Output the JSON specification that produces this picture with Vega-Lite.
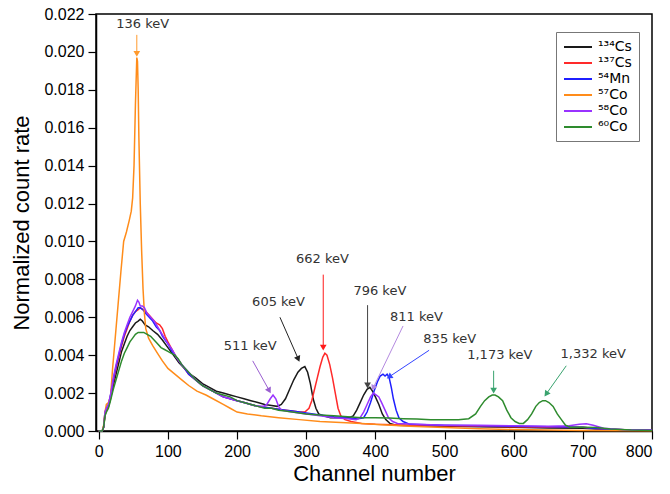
{
"$schema":"https://vega.github.io/schema/vega-lite/v6.json",
"width":556,"height":417,
"autosize":{"type":"none"},
"padding":{"left":96,"top":14,"right":18,"bottom":63},
"background":"white",
"config":{"view":{"stroke":"black","strokeWidth":1.5},
"axis":{"domainColor":"black","tickColor":"black","labelColor":"black","titleColor":"black","labelFont":"Liberation Sans","titleFont":"Liberation Sans","labelFontSize":16,"titleFontSize":22,"titleFontWeight":"normal","grid":false,"tickSize":8,"labelPadding":4,"labelOverlap":false,"domainWidth":1.5,"tickWidth":1.2},
"axisX":{"titlePadding":4},
"axisY":{"titlePadding":10}},
"datasets":{
"ann":[
{"label":"136 keV","tx":63.5,"tv":0.02146,"ax":55,"av":0.0209,"bx":55,"bv":0.0199},
{"label":"511 keV","tx":219,"tv":0.00449,"ax":222.6,"av":0.0037,"bx":246.6,"bv":0.00213},
{"label":"605 keV","tx":260,"tv":0.0068,"ax":262,"av":0.0060,"bx":288.5,"bv":0.0038},
{"label":"662 keV","tx":323.5,"tv":0.0091,"ax":324.6,"av":0.00825,"bx":324.6,"bv":0.0044},
{"label":"796 keV","tx":406.5,"tv":0.0074,"ax":388.7,"av":0.00664,"bx":388.7,"bv":0.0024},
{"label":"811 keV","tx":459.5,"tv":0.0060,"ax":440,"av":0.00554,"bx":396.8,"bv":0.00227},
{"label":"835 keV","tx":507.6,"tv":0.00487,"ax":477.7,"av":0.00426,"bx":420,"bv":0.00286},
{"label":"1,173 keV","tx":580,"tv":0.0040,"ax":571,"av":0.00318,"bx":571,"bv":0.00213},
{"label":"1,332 keV","tx":715,"tv":0.00408,"ax":676,"av":0.00344,"bx":647,"bv":0.00195}
],
"spectra":[
{"isotope":"¹³⁴Cs","channel":0,"rate":0},{"isotope":"¹³⁴Cs","channel":5,"rate":0},{"isotope":"¹³⁴Cs","channel":7,"rate":0.0002},{"isotope":"¹³⁴Cs","channel":9,"rate":0.0008},{"isotope":"¹³⁴Cs","channel":11,"rate":0.0011},{"isotope":"¹³⁴Cs","channel":14,"rate":0.0013},{"isotope":"¹³⁴Cs","channel":17,"rate":0.0017},{"isotope":"¹³⁴Cs","channel":21,"rate":0.0024},{"isotope":"¹³⁴Cs","channel":25,"rate":0.0030},{"isotope":"¹³⁴Cs","channel":29,"rate":0.0036},{"isotope":"¹³⁴Cs","channel":33,"rate":0.0042},{"isotope":"¹³⁴Cs","channel":37,"rate":0.0046},{"isotope":"¹³⁴Cs","channel":41,"rate":0.0050},{"isotope":"¹³⁴Cs","channel":45,"rate":0.0053},{"isotope":"¹³⁴Cs","channel":49,"rate":0.0055},{"isotope":"¹³⁴Cs","channel":53,"rate":0.0057},{"isotope":"¹³⁴Cs","channel":57,"rate":0.0058},{"isotope":"¹³⁴Cs","channel":60,"rate":0.0059},{"isotope":"¹³⁴Cs","channel":63,"rate":0.0058},{"isotope":"¹³⁴Cs","channel":67,"rate":0.0056},{"isotope":"¹³⁴Cs","channel":72,"rate":0.0055},{"isotope":"¹³⁴Cs","channel":78,"rate":0.0053},{"isotope":"¹³⁴Cs","channel":85,"rate":0.0051},{"isotope":"¹³⁴Cs","channel":92,"rate":0.0048},{"isotope":"¹³⁴Cs","channel":100,"rate":0.0044},{"isotope":"¹³⁴Cs","channel":108,"rate":0.0040},{"isotope":"¹³⁴Cs","channel":116,"rate":0.0036},{"isotope":"¹³⁴Cs","channel":124,"rate":0.0033},{"isotope":"¹³⁴Cs","channel":132,"rate":0.0030},{"isotope":"¹³⁴Cs","channel":140,"rate":0.0028},{"isotope":"¹³⁴Cs","channel":150,"rate":0.0025},{"isotope":"¹³⁴Cs","channel":160,"rate":0.0023},{"isotope":"¹³⁴Cs","channel":170,"rate":0.0021},{"isotope":"¹³⁴Cs","channel":180,"rate":0.0020},{"isotope":"¹³⁴Cs","channel":190,"rate":0.0019},{"isotope":"¹³⁴Cs","channel":200,"rate":0.0018},{"isotope":"¹³⁴Cs","channel":210,"rate":0.0017},{"isotope":"¹³⁴Cs","channel":220,"rate":0.0016},{"isotope":"¹³⁴Cs","channel":230,"rate":0.0015},{"isotope":"¹³⁴Cs","channel":240,"rate":0.0014},{"isotope":"¹³⁴Cs","channel":250,"rate":0.00135},{"isotope":"¹³⁴Cs","channel":258,"rate":0.0013},{"isotope":"¹³⁴Cs","channel":264,"rate":0.0014},{"isotope":"¹³⁴Cs","channel":270,"rate":0.0017},{"isotope":"¹³⁴Cs","channel":276,"rate":0.0022},{"isotope":"¹³⁴Cs","channel":282,"rate":0.0027},{"isotope":"¹³⁴Cs","channel":288,"rate":0.0031},{"isotope":"¹³⁴Cs","channel":293,"rate":0.0033},{"isotope":"¹³⁴Cs","channel":298,"rate":0.0034},{"isotope":"¹³⁴Cs","channel":302,"rate":0.0031},{"isotope":"¹³⁴Cs","channel":306,"rate":0.0025},{"isotope":"¹³⁴Cs","channel":310,"rate":0.0017},{"isotope":"¹³⁴Cs","channel":314,"rate":0.0012},{"isotope":"¹³⁴Cs","channel":318,"rate":0.0009},{"isotope":"¹³⁴Cs","channel":325,"rate":0.0008},{"isotope":"¹³⁴Cs","channel":335,"rate":0.0007},{"isotope":"¹³⁴Cs","channel":350,"rate":0.0007},{"isotope":"¹³⁴Cs","channel":362,"rate":0.0007},{"isotope":"¹³⁴Cs","channel":368,"rate":0.0008},{"isotope":"¹³⁴Cs","channel":373,"rate":0.0011},{"isotope":"¹³⁴Cs","channel":378,"rate":0.0015},{"isotope":"¹³⁴Cs","channel":383,"rate":0.0019},{"isotope":"¹³⁴Cs","channel":388,"rate":0.0022},{"isotope":"¹³⁴Cs","channel":392,"rate":0.0023},{"isotope":"¹³⁴Cs","channel":396,"rate":0.0021},{"isotope":"¹³⁴Cs","channel":400,"rate":0.0018},{"isotope":"¹³⁴Cs","channel":405,"rate":0.0014},{"isotope":"¹³⁴Cs","channel":410,"rate":0.0009},{"isotope":"¹³⁴Cs","channel":415,"rate":0.0006},{"isotope":"¹³⁴Cs","channel":421,"rate":0.0004},{"isotope":"¹³⁴Cs","channel":430,"rate":0.0003},{"isotope":"¹³⁴Cs","channel":460,"rate":0.00028},{"isotope":"¹³⁴Cs","channel":500,"rate":0.00025},{"isotope":"¹³⁴Cs","channel":550,"rate":0.00022},{"isotope":"¹³⁴Cs","channel":600,"rate":0.0002},{"isotope":"¹³⁴Cs","channel":650,"rate":0.00016},{"isotope":"¹³⁴Cs","channel":700,"rate":0.00014},{"isotope":"¹³⁴Cs","channel":720,"rate":0.0001},{"isotope":"¹³⁴Cs","channel":750,"rate":0.00006},{"isotope":"¹³⁴Cs","channel":800,"rate":0.00004},
{"isotope":"¹³⁷Cs","channel":0,"rate":0},{"isotope":"¹³⁷Cs","channel":5,"rate":0},{"isotope":"¹³⁷Cs","channel":7,"rate":0.0002},{"isotope":"¹³⁷Cs","channel":9,"rate":0.0009},{"isotope":"¹³⁷Cs","channel":11,"rate":0.0011},{"isotope":"¹³⁷Cs","channel":14,"rate":0.0013},{"isotope":"¹³⁷Cs","channel":17,"rate":0.0018},{"isotope":"¹³⁷Cs","channel":21,"rate":0.0026},{"isotope":"¹³⁷Cs","channel":25,"rate":0.0033},{"isotope":"¹³⁷Cs","channel":29,"rate":0.0039},{"isotope":"¹³⁷Cs","channel":33,"rate":0.0045},{"isotope":"¹³⁷Cs","channel":37,"rate":0.0050},{"isotope":"¹³⁷Cs","channel":41,"rate":0.0054},{"isotope":"¹³⁷Cs","channel":45,"rate":0.0058},{"isotope":"¹³⁷Cs","channel":49,"rate":0.0061},{"isotope":"¹³⁷Cs","channel":53,"rate":0.0063},{"isotope":"¹³⁷Cs","channel":57,"rate":0.0064},{"isotope":"¹³⁷Cs","channel":60,"rate":0.0065},{"isotope":"¹³⁷Cs","channel":64,"rate":0.0064},{"isotope":"¹³⁷Cs","channel":68,"rate":0.0063},{"isotope":"¹³⁷Cs","channel":73,"rate":0.0061},{"isotope":"¹³⁷Cs","channel":78,"rate":0.0059},{"isotope":"¹³⁷Cs","channel":83,"rate":0.0057},{"isotope":"¹³⁷Cs","channel":88,"rate":0.0056},{"isotope":"¹³⁷Cs","channel":92,"rate":0.0054},{"isotope":"¹³⁷Cs","channel":96,"rate":0.0050},{"isotope":"¹³⁷Cs","channel":100,"rate":0.0047},{"isotope":"¹³⁷Cs","channel":106,"rate":0.0043},{"isotope":"¹³⁷Cs","channel":112,"rate":0.0039},{"isotope":"¹³⁷Cs","channel":120,"rate":0.0035},{"isotope":"¹³⁷Cs","channel":130,"rate":0.0030},{"isotope":"¹³⁷Cs","channel":140,"rate":0.0027},{"isotope":"¹³⁷Cs","channel":150,"rate":0.0024},{"isotope":"¹³⁷Cs","channel":160,"rate":0.0022},{"isotope":"¹³⁷Cs","channel":170,"rate":0.0020},{"isotope":"¹³⁷Cs","channel":180,"rate":0.0018},{"isotope":"¹³⁷Cs","channel":190,"rate":0.0017},{"isotope":"¹³⁷Cs","channel":200,"rate":0.0016},{"isotope":"¹³⁷Cs","channel":210,"rate":0.0015},{"isotope":"¹³⁷Cs","channel":220,"rate":0.0014},{"isotope":"¹³⁷Cs","channel":230,"rate":0.0013},{"isotope":"¹³⁷Cs","channel":240,"rate":0.00125},{"isotope":"¹³⁷Cs","channel":250,"rate":0.0012},{"isotope":"¹³⁷Cs","channel":260,"rate":0.00115},{"isotope":"¹³⁷Cs","channel":270,"rate":0.0011},{"isotope":"¹³⁷Cs","channel":280,"rate":0.00105},{"isotope":"¹³⁷Cs","channel":290,"rate":0.0010},{"isotope":"¹³⁷Cs","channel":298,"rate":0.0010},{"isotope":"¹³⁷Cs","channel":304,"rate":0.0012},{"isotope":"¹³⁷Cs","channel":308,"rate":0.0016},{"isotope":"¹³⁷Cs","channel":312,"rate":0.0022},{"isotope":"¹³⁷Cs","channel":316,"rate":0.0028},{"isotope":"¹³⁷Cs","channel":320,"rate":0.0034},{"isotope":"¹³⁷Cs","channel":324,"rate":0.0039},{"isotope":"¹³⁷Cs","channel":327,"rate":0.0041},{"isotope":"¹³⁷Cs","channel":330,"rate":0.0040},{"isotope":"¹³⁷Cs","channel":334,"rate":0.0035},{"isotope":"¹³⁷Cs","channel":338,"rate":0.0028},{"isotope":"¹³⁷Cs","channel":342,"rate":0.0020},{"isotope":"¹³⁷Cs","channel":346,"rate":0.0012},{"isotope":"¹³⁷Cs","channel":350,"rate":0.0008},{"isotope":"¹³⁷Cs","channel":356,"rate":0.0006},{"isotope":"¹³⁷Cs","channel":365,"rate":0.0005},{"isotope":"¹³⁷Cs","channel":380,"rate":0.0004},{"isotope":"¹³⁷Cs","channel":400,"rate":0.00035},{"isotope":"¹³⁷Cs","channel":450,"rate":0.0003},{"isotope":"¹³⁷Cs","channel":500,"rate":0.00028},{"isotope":"¹³⁷Cs","channel":550,"rate":0.00025},{"isotope":"¹³⁷Cs","channel":600,"rate":0.00022},{"isotope":"¹³⁷Cs","channel":650,"rate":0.0002},{"isotope":"¹³⁷Cs","channel":700,"rate":0.0002},{"isotope":"¹³⁷Cs","channel":720,"rate":0.00012},{"isotope":"¹³⁷Cs","channel":760,"rate":0.00006},{"isotope":"¹³⁷Cs","channel":800,"rate":0.00004},
{"isotope":"⁵⁴Mn","channel":0,"rate":0},{"isotope":"⁵⁴Mn","channel":5,"rate":0},{"isotope":"⁵⁴Mn","channel":7,"rate":0.0002},{"isotope":"⁵⁴Mn","channel":9,"rate":0.0010},{"isotope":"⁵⁴Mn","channel":11,"rate":0.0012},{"isotope":"⁵⁴Mn","channel":14,"rate":0.0014},{"isotope":"⁵⁴Mn","channel":17,"rate":0.0019},{"isotope":"⁵⁴Mn","channel":21,"rate":0.0027},{"isotope":"⁵⁴Mn","channel":25,"rate":0.0034},{"isotope":"⁵⁴Mn","channel":29,"rate":0.0040},{"isotope":"⁵⁴Mn","channel":33,"rate":0.0046},{"isotope":"⁵⁴Mn","channel":37,"rate":0.0051},{"isotope":"⁵⁴Mn","channel":41,"rate":0.0055},{"isotope":"⁵⁴Mn","channel":45,"rate":0.0058},{"isotope":"⁵⁴Mn","channel":49,"rate":0.0061},{"isotope":"⁵⁴Mn","channel":53,"rate":0.0063},{"isotope":"⁵⁴Mn","channel":57,"rate":0.0065},{"isotope":"⁵⁴Mn","channel":60,"rate":0.0065},{"isotope":"⁵⁴Mn","channel":64,"rate":0.0064},{"isotope":"⁵⁴Mn","channel":68,"rate":0.0062},{"isotope":"⁵⁴Mn","channel":73,"rate":0.0060},{"isotope":"⁵⁴Mn","channel":78,"rate":0.0058},{"isotope":"⁵⁴Mn","channel":83,"rate":0.0055},{"isotope":"⁵⁴Mn","channel":88,"rate":0.0053},{"isotope":"⁵⁴Mn","channel":92,"rate":0.0050},{"isotope":"⁵⁴Mn","channel":96,"rate":0.0048},{"isotope":"⁵⁴Mn","channel":100,"rate":0.0046},{"isotope":"⁵⁴Mn","channel":106,"rate":0.0042},{"isotope":"⁵⁴Mn","channel":112,"rate":0.0039},{"isotope":"⁵⁴Mn","channel":120,"rate":0.0035},{"isotope":"⁵⁴Mn","channel":130,"rate":0.0030},{"isotope":"⁵⁴Mn","channel":140,"rate":0.0027},{"isotope":"⁵⁴Mn","channel":150,"rate":0.0024},{"isotope":"⁵⁴Mn","channel":160,"rate":0.0022},{"isotope":"⁵⁴Mn","channel":170,"rate":0.0020},{"isotope":"⁵⁴Mn","channel":180,"rate":0.0018},{"isotope":"⁵⁴Mn","channel":190,"rate":0.0017},{"isotope":"⁵⁴Mn","channel":200,"rate":0.0016},{"isotope":"⁵⁴Mn","channel":210,"rate":0.0015},{"isotope":"⁵⁴Mn","channel":220,"rate":0.0014},{"isotope":"⁵⁴Mn","channel":230,"rate":0.0013},{"isotope":"⁵⁴Mn","channel":240,"rate":0.00125},{"isotope":"⁵⁴Mn","channel":250,"rate":0.0012},{"isotope":"⁵⁴Mn","channel":260,"rate":0.00115},{"isotope":"⁵⁴Mn","channel":270,"rate":0.0011},{"isotope":"⁵⁴Mn","channel":280,"rate":0.00105},{"isotope":"⁵⁴Mn","channel":290,"rate":0.0010},{"isotope":"⁵⁴Mn","channel":300,"rate":0.00095},{"isotope":"⁵⁴Mn","channel":320,"rate":0.00085},{"isotope":"⁵⁴Mn","channel":340,"rate":0.00075},{"isotope":"⁵⁴Mn","channel":360,"rate":0.00068},{"isotope":"⁵⁴Mn","channel":375,"rate":0.00065},{"isotope":"⁵⁴Mn","channel":383,"rate":0.0007},{"isotope":"⁵⁴Mn","channel":388,"rate":0.0010},{"isotope":"⁵⁴Mn","channel":393,"rate":0.0015},{"isotope":"⁵⁴Mn","channel":398,"rate":0.0021},{"isotope":"⁵⁴Mn","channel":403,"rate":0.0026},{"isotope":"⁵⁴Mn","channel":407,"rate":0.0029},{"isotope":"⁵⁴Mn","channel":411,"rate":0.0030},{"isotope":"⁵⁴Mn","channel":414,"rate":0.0029},{"isotope":"⁵⁴Mn","channel":417,"rate":0.0030},{"isotope":"⁵⁴Mn","channel":420,"rate":0.0028},{"isotope":"⁵⁴Mn","channel":423,"rate":0.0023},{"isotope":"⁵⁴Mn","channel":426,"rate":0.0017},{"isotope":"⁵⁴Mn","channel":430,"rate":0.0011},{"isotope":"⁵⁴Mn","channel":434,"rate":0.0007},{"isotope":"⁵⁴Mn","channel":440,"rate":0.0005},{"isotope":"⁵⁴Mn","channel":450,"rate":0.00035},{"isotope":"⁵⁴Mn","channel":500,"rate":0.0003},{"isotope":"⁵⁴Mn","channel":550,"rate":0.00028},{"isotope":"⁵⁴Mn","channel":600,"rate":0.00025},{"isotope":"⁵⁴Mn","channel":650,"rate":0.00022},{"isotope":"⁵⁴Mn","channel":700,"rate":0.0002},{"isotope":"⁵⁴Mn","channel":720,"rate":0.00012},{"isotope":"⁵⁴Mn","channel":760,"rate":0.00006},{"isotope":"⁵⁴Mn","channel":800,"rate":0.00004},
{"isotope":"⁵⁷Co","channel":0,"rate":0},{"isotope":"⁵⁷Co","channel":5,"rate":0},{"isotope":"⁵⁷Co","channel":7,"rate":0.0003},{"isotope":"⁵⁷Co","channel":9,"rate":0.0010},{"isotope":"⁵⁷Co","channel":11,"rate":0.0014},{"isotope":"⁵⁷Co","channel":14,"rate":0.0015},{"isotope":"⁵⁷Co","channel":17,"rate":0.0018},{"isotope":"⁵⁷Co","channel":20,"rate":0.0033},{"isotope":"⁵⁷Co","channel":24,"rate":0.0050},{"isotope":"⁵⁷Co","channel":28,"rate":0.0067},{"isotope":"⁵⁷Co","channel":32,"rate":0.0084},{"isotope":"⁵⁷Co","channel":36,"rate":0.0100},{"isotope":"⁵⁷Co","channel":40,"rate":0.0105},{"isotope":"⁵⁷Co","channel":44,"rate":0.0111},{"isotope":"⁵⁷Co","channel":47,"rate":0.0116},{"isotope":"⁵⁷Co","channel":49,"rate":0.0123},{"isotope":"⁵⁷Co","channel":51,"rate":0.0140},{"isotope":"⁵⁷Co","channel":53,"rate":0.0172},{"isotope":"⁵⁷Co","channel":55,"rate":0.0197},{"isotope":"⁵⁷Co","channel":56,"rate":0.0195},{"isotope":"⁵⁷Co","channel":57,"rate":0.0180},{"isotope":"⁵⁷Co","channel":58,"rate":0.0155},{"isotope":"⁵⁷Co","channel":60,"rate":0.0120},{"isotope":"⁵⁷Co","channel":62,"rate":0.0095},{"isotope":"⁵⁷Co","channel":64,"rate":0.0075},{"isotope":"⁵⁷Co","channel":66,"rate":0.0062},{"isotope":"⁵⁷Co","channel":68,"rate":0.0054},{"isotope":"⁵⁷Co","channel":72,"rate":0.0049},{"isotope":"⁵⁷Co","channel":78,"rate":0.0045},{"isotope":"⁵⁷Co","channel":85,"rate":0.0041},{"isotope":"⁵⁷Co","channel":92,"rate":0.0037},{"isotope":"⁵⁷Co","channel":100,"rate":0.0033},{"isotope":"⁵⁷Co","channel":110,"rate":0.0030},{"isotope":"⁵⁷Co","channel":120,"rate":0.0027},{"isotope":"⁵⁷Co","channel":130,"rate":0.0024},{"isotope":"⁵⁷Co","channel":142,"rate":0.0021},{"isotope":"⁵⁷Co","channel":155,"rate":0.0019},{"isotope":"⁵⁷Co","channel":165,"rate":0.0017},{"isotope":"⁵⁷Co","channel":180,"rate":0.0014},{"isotope":"⁵⁷Co","channel":190,"rate":0.0012},{"isotope":"⁵⁷Co","channel":200,"rate":0.0010},{"isotope":"⁵⁷Co","channel":215,"rate":0.0009},{"isotope":"⁵⁷Co","channel":235,"rate":0.0008},{"isotope":"⁵⁷Co","channel":260,"rate":0.0007},{"isotope":"⁵⁷Co","channel":290,"rate":0.0006},{"isotope":"⁵⁷Co","channel":320,"rate":0.0005},{"isotope":"⁵⁷Co","channel":350,"rate":0.00045},{"isotope":"⁵⁷Co","channel":380,"rate":0.0004},{"isotope":"⁵⁷Co","channel":410,"rate":0.00033},{"isotope":"⁵⁷Co","channel":450,"rate":0.00025},{"isotope":"⁵⁷Co","channel":500,"rate":0.00018},{"isotope":"⁵⁷Co","channel":550,"rate":0.00012},{"isotope":"⁵⁷Co","channel":600,"rate":0.00008},{"isotope":"⁵⁷Co","channel":650,"rate":0.00005},{"isotope":"⁵⁷Co","channel":700,"rate":0.00003},{"isotope":"⁵⁷Co","channel":800,"rate":0.00001},
{"isotope":"⁵⁸Co","channel":0,"rate":0},{"isotope":"⁵⁸Co","channel":5,"rate":0},{"isotope":"⁵⁸Co","channel":7,"rate":0.0002},{"isotope":"⁵⁸Co","channel":9,"rate":0.0010},{"isotope":"⁵⁸Co","channel":11,"rate":0.0012},{"isotope":"⁵⁸Co","channel":14,"rate":0.0014},{"isotope":"⁵⁸Co","channel":17,"rate":0.0019},{"isotope":"⁵⁸Co","channel":21,"rate":0.0028},{"isotope":"⁵⁸Co","channel":25,"rate":0.0035},{"isotope":"⁵⁸Co","channel":29,"rate":0.0041},{"isotope":"⁵⁸Co","channel":33,"rate":0.0047},{"isotope":"⁵⁸Co","channel":37,"rate":0.0052},{"isotope":"⁵⁸Co","channel":41,"rate":0.0056},{"isotope":"⁵⁸Co","channel":45,"rate":0.0060},{"isotope":"⁵⁸Co","channel":49,"rate":0.0063},{"isotope":"⁵⁸Co","channel":53,"rate":0.0066},{"isotope":"⁵⁸Co","channel":56,"rate":0.0069},{"isotope":"⁵⁸Co","channel":58,"rate":0.0068},{"isotope":"⁵⁸Co","channel":60,"rate":0.0066},{"isotope":"⁵⁸Co","channel":63,"rate":0.0066},{"isotope":"⁵⁸Co","channel":66,"rate":0.0065},{"isotope":"⁵⁸Co","channel":70,"rate":0.0062},{"isotope":"⁵⁸Co","channel":75,"rate":0.0060},{"isotope":"⁵⁸Co","channel":80,"rate":0.0058},{"isotope":"⁵⁸Co","channel":85,"rate":0.0055},{"isotope":"⁵⁸Co","channel":90,"rate":0.0052},{"isotope":"⁵⁸Co","channel":95,"rate":0.0049},{"isotope":"⁵⁸Co","channel":100,"rate":0.0046},{"isotope":"⁵⁸Co","channel":106,"rate":0.0043},{"isotope":"⁵⁸Co","channel":112,"rate":0.0039},{"isotope":"⁵⁸Co","channel":120,"rate":0.0035},{"isotope":"⁵⁸Co","channel":130,"rate":0.0031},{"isotope":"⁵⁸Co","channel":140,"rate":0.0027},{"isotope":"⁵⁸Co","channel":150,"rate":0.0024},{"isotope":"⁵⁸Co","channel":160,"rate":0.0022},{"isotope":"⁵⁸Co","channel":170,"rate":0.0020},{"isotope":"⁵⁸Co","channel":180,"rate":0.0018},{"isotope":"⁵⁸Co","channel":190,"rate":0.0017},{"isotope":"⁵⁸Co","channel":200,"rate":0.0016},{"isotope":"⁵⁸Co","channel":210,"rate":0.0015},{"isotope":"⁵⁸Co","channel":220,"rate":0.0014},{"isotope":"⁵⁸Co","channel":230,"rate":0.0013},{"isotope":"⁵⁸Co","channel":238,"rate":0.0013},{"isotope":"⁵⁸Co","channel":243,"rate":0.0014},{"isotope":"⁵⁸Co","channel":248,"rate":0.0017},{"isotope":"⁵⁸Co","channel":252,"rate":0.0019},{"isotope":"⁵⁸Co","channel":256,"rate":0.0017},{"isotope":"⁵⁸Co","channel":260,"rate":0.0013},{"isotope":"⁵⁸Co","channel":264,"rate":0.0011},{"isotope":"⁵⁸Co","channel":270,"rate":0.00105},{"isotope":"⁵⁸Co","channel":280,"rate":0.0010},{"isotope":"⁵⁸Co","channel":300,"rate":0.0009},{"isotope":"⁵⁸Co","channel":320,"rate":0.0008},{"isotope":"⁵⁸Co","channel":340,"rate":0.0007},{"isotope":"⁵⁸Co","channel":360,"rate":0.00065},{"isotope":"⁵⁸Co","channel":372,"rate":0.0006},{"isotope":"⁵⁸Co","channel":378,"rate":0.0007},{"isotope":"⁵⁸Co","channel":383,"rate":0.0010},{"isotope":"⁵⁸Co","channel":388,"rate":0.0014},{"isotope":"⁵⁸Co","channel":393,"rate":0.0018},{"isotope":"⁵⁸Co","channel":397,"rate":0.0020},{"isotope":"⁵⁸Co","channel":401,"rate":0.0019},{"isotope":"⁵⁸Co","channel":405,"rate":0.0018},{"isotope":"⁵⁸Co","channel":409,"rate":0.0015},{"isotope":"⁵⁸Co","channel":414,"rate":0.0011},{"isotope":"⁵⁸Co","channel":419,"rate":0.0007},{"isotope":"⁵⁸Co","channel":425,"rate":0.0005},{"isotope":"⁵⁸Co","channel":432,"rate":0.0004},{"isotope":"⁵⁸Co","channel":460,"rate":0.00035},{"isotope":"⁵⁸Co","channel":500,"rate":0.0003},{"isotope":"⁵⁸Co","channel":550,"rate":0.0003},{"isotope":"⁵⁸Co","channel":600,"rate":0.00028},{"isotope":"⁵⁸Co","channel":650,"rate":0.00025},{"isotope":"⁵⁸Co","channel":680,"rate":0.00028},{"isotope":"⁵⁸Co","channel":695,"rate":0.00035},{"isotope":"⁵⁸Co","channel":705,"rate":0.00038},{"isotope":"⁵⁸Co","channel":715,"rate":0.0003},{"isotope":"⁵⁸Co","channel":730,"rate":0.00015},{"isotope":"⁵⁸Co","channel":760,"rate":0.00007},{"isotope":"⁵⁸Co","channel":800,"rate":0.00004},
{"isotope":"⁶⁰Co","channel":0,"rate":0},{"isotope":"⁶⁰Co","channel":5,"rate":0},{"isotope":"⁶⁰Co","channel":7,"rate":0.0002},{"isotope":"⁶⁰Co","channel":9,"rate":0.0008},{"isotope":"⁶⁰Co","channel":11,"rate":0.0010},{"isotope":"⁶⁰Co","channel":14,"rate":0.0012},{"isotope":"⁶⁰Co","channel":17,"rate":0.0016},{"isotope":"⁶⁰Co","channel":21,"rate":0.0022},{"isotope":"⁶⁰Co","channel":25,"rate":0.0027},{"isotope":"⁶⁰Co","channel":29,"rate":0.0032},{"isotope":"⁶⁰Co","channel":33,"rate":0.0037},{"isotope":"⁶⁰Co","channel":37,"rate":0.0041},{"isotope":"⁶⁰Co","channel":41,"rate":0.0044},{"isotope":"⁶⁰Co","channel":45,"rate":0.0047},{"isotope":"⁶⁰Co","channel":49,"rate":0.0049},{"isotope":"⁶⁰Co","channel":53,"rate":0.0051},{"isotope":"⁶⁰Co","channel":57,"rate":0.0052},{"isotope":"⁶⁰Co","channel":61,"rate":0.0052},{"isotope":"⁶⁰Co","channel":65,"rate":0.0052},{"isotope":"⁶⁰Co","channel":70,"rate":0.0051},{"isotope":"⁶⁰Co","channel":75,"rate":0.0050},{"isotope":"⁶⁰Co","channel":80,"rate":0.0048},{"isotope":"⁶⁰Co","channel":85,"rate":0.0046},{"isotope":"⁶⁰Co","channel":90,"rate":0.0044},{"isotope":"⁶⁰Co","channel":95,"rate":0.0043},{"isotope":"⁶⁰Co","channel":100,"rate":0.0042},{"isotope":"⁶⁰Co","channel":105,"rate":0.0041},{"isotope":"⁶⁰Co","channel":110,"rate":0.0040},{"isotope":"⁶⁰Co","channel":115,"rate":0.0038},{"isotope":"⁶⁰Co","channel":120,"rate":0.0035},{"isotope":"⁶⁰Co","channel":130,"rate":0.0031},{"isotope":"⁶⁰Co","channel":140,"rate":0.0027},{"isotope":"⁶⁰Co","channel":150,"rate":0.0024},{"isotope":"⁶⁰Co","channel":160,"rate":0.0022},{"isotope":"⁶⁰Co","channel":170,"rate":0.0020},{"isotope":"⁶⁰Co","channel":180,"rate":0.0019},{"isotope":"⁶⁰Co","channel":190,"rate":0.0018},{"isotope":"⁶⁰Co","channel":200,"rate":0.0016},{"isotope":"⁶⁰Co","channel":210,"rate":0.0015},{"isotope":"⁶⁰Co","channel":220,"rate":0.0014},{"isotope":"⁶⁰Co","channel":230,"rate":0.0013},{"isotope":"⁶⁰Co","channel":240,"rate":0.0012},{"isotope":"⁶⁰Co","channel":250,"rate":0.0012},{"isotope":"⁶⁰Co","channel":260,"rate":0.0011},{"isotope":"⁶⁰Co","channel":270,"rate":0.00105},{"isotope":"⁶⁰Co","channel":280,"rate":0.0010},{"isotope":"⁶⁰Co","channel":290,"rate":0.00095},{"isotope":"⁶⁰Co","channel":300,"rate":0.0009},{"isotope":"⁶⁰Co","channel":320,"rate":0.00085},{"isotope":"⁶⁰Co","channel":340,"rate":0.0008},{"isotope":"⁶⁰Co","channel":360,"rate":0.00075},{"isotope":"⁶⁰Co","channel":380,"rate":0.0007},{"isotope":"⁶⁰Co","channel":400,"rate":0.0007},{"isotope":"⁶⁰Co","channel":420,"rate":0.00068},{"isotope":"⁶⁰Co","channel":440,"rate":0.00065},{"isotope":"⁶⁰Co","channel":460,"rate":0.00063},{"isotope":"⁶⁰Co","channel":480,"rate":0.0006},{"isotope":"⁶⁰Co","channel":500,"rate":0.0006},{"isotope":"⁶⁰Co","channel":520,"rate":0.0006},{"isotope":"⁶⁰Co","channel":535,"rate":0.00065},{"isotope":"⁶⁰Co","channel":545,"rate":0.0009},{"isotope":"⁶⁰Co","channel":552,"rate":0.0013},{"isotope":"⁶⁰Co","channel":558,"rate":0.0016},{"isotope":"⁶⁰Co","channel":564,"rate":0.0018},{"isotope":"⁶⁰Co","channel":569,"rate":0.0019},{"isotope":"⁶⁰Co","channel":573,"rate":0.0019},{"isotope":"⁶⁰Co","channel":578,"rate":0.0018},{"isotope":"⁶⁰Co","channel":584,"rate":0.0016},{"isotope":"⁶⁰Co","channel":590,"rate":0.0011},{"isotope":"⁶⁰Co","channel":596,"rate":0.0007},{"isotope":"⁶⁰Co","channel":602,"rate":0.0005},{"isotope":"⁶⁰Co","channel":608,"rate":0.0004},{"isotope":"⁶⁰Co","channel":614,"rate":0.0004},{"isotope":"⁶⁰Co","channel":620,"rate":0.0006},{"isotope":"⁶⁰Co","channel":626,"rate":0.0009},{"isotope":"⁶⁰Co","channel":632,"rate":0.0013},{"isotope":"⁶⁰Co","channel":637,"rate":0.0015},{"isotope":"⁶⁰Co","channel":642,"rate":0.0016},{"isotope":"⁶⁰Co","channel":646,"rate":0.0016},{"isotope":"⁶⁰Co","channel":651,"rate":0.0015},{"isotope":"⁶⁰Co","channel":657,"rate":0.0013},{"isotope":"⁶⁰Co","channel":663,"rate":0.0009},{"isotope":"⁶⁰Co","channel":669,"rate":0.0006},{"isotope":"⁶⁰Co","channel":675,"rate":0.0003},{"isotope":"⁶⁰Co","channel":682,"rate":0.0002},{"isotope":"⁶⁰Co","channel":700,"rate":0.0002},{"isotope":"⁶⁰Co","channel":720,"rate":0.00018},{"isotope":"⁶⁰Co","channel":740,"rate":0.0001},{"isotope":"⁶⁰Co","channel":770,"rate":0.00005},{"isotope":"⁶⁰Co","channel":800,"rate":0.00003}
]},
"resolve":{"scale":{"color":"independent"}},
"layer":[
{"data":{"name":"spectra"},
"mark":{"type":"line","strokeWidth":1.5},
"encoding":{
"x":{"field":"channel","type":"quantitative","title":"Channel number","scale":{"domain":[-4,800],"nice":false,"zero":false},"axis":{"values":[0,100,200,300,400,500,600,700,800]}},
"y":{"field":"rate","type":"quantitative","title":"Normalized count rate","scale":{"domain":[0,0.022],"nice":false},"axis":{"values":[0,0.002,0.004,0.006,0.008,0.01,0.012,0.014,0.016,0.018,0.02,0.022],"format":".3f"}},
"color":{"field":"isotope","type":"nominal","scale":{"domain":["¹³⁴Cs","¹³⁷Cs","⁵⁴Mn","⁵⁷Co","⁵⁸Co","⁶⁰Co"],"range":["#1a1a1a","#ff2a2a","#1f1fff","#ff8c1a","#9933ff","#2e8b2e"]},
"legend":{"orient":"none","legendX":460,"legendY":18,"title":null,"symbolType":"M-1,0H3","symbolStrokeWidth":2,"symbolSize":196,"labelFont":"DejaVu Sans","labelFontSize":14,"labelColor":"black","labelOffset":19,"strokeColor":"#777","fillColor":"white","padding":7,"rowPadding":1}}}},
{"data":{"name":"ann"},
"mark":{"type":"rule","strokeWidth":1},
"encoding":{
"x":{"field":"ax","type":"quantitative","title":"Channel number","axis":{"values":[0,100,200,300,400,500,600,700,800]}},
"y":{"field":"av","type":"quantitative","title":"Normalized count rate","axis":{"values":[0,0.002,0.004,0.006,0.008,0.01,0.012,0.014,0.016,0.018,0.02,0.022],"format":".3f"}},
"x2":{"field":"bx"},"y2":{"field":"bv"},
"color":{"field":"label","type":"nominal","legend":null,"scale":{"domain":["136 keV","511 keV","605 keV","662 keV","796 keV","811 keV","835 keV","1,173 keV","1,332 keV"],"range":["#ff9a2e","#9a5fd0","#222222","#ff1a1a","#444444","#b48ae0","#3344ff","#3aa36f","#3aa36f"]}}}},
{"data":{"name":"ann"},
"transform":[{"calculate":"(atan2(-(datum.bx-datum.ax)*0.6915,(datum.av-datum.bv)*18954.5)*180/PI+360)%360","as":"angle"}],
"mark":{"type":"point","shape":"triangle-down","filled":true,"size":45,"opacity":1},
"encoding":{
"x":{"field":"bx","type":"quantitative","title":"Channel number","axis":{"values":[0,100,200,300,400,500,600,700,800]}},
"y":{"field":"bv","type":"quantitative","title":"Normalized count rate","axis":{"values":[0,0.002,0.004,0.006,0.008,0.01,0.012,0.014,0.016,0.018,0.02,0.022],"format":".3f"}},
"angle":{"field":"angle","type":"quantitative","scale":null},
"color":{"field":"label","type":"nominal","legend":null,"scale":{"domain":["136 keV","511 keV","605 keV","662 keV","796 keV","811 keV","835 keV","1,173 keV","1,332 keV"],"range":["#ff9a2e","#9a5fd0","#222222","#ff1a1a","#444444","#b48ae0","#3344ff","#3aa36f","#3aa36f"]}}}},
{"data":{"name":"ann"},
"mark":{"type":"text","font":"DejaVu Sans","fontSize":13,"color":"#333333"},
"encoding":{
"x":{"field":"tx","type":"quantitative","title":"Channel number","axis":{"values":[0,100,200,300,400,500,600,700,800]}},
"y":{"field":"tv","type":"quantitative","title":"Normalized count rate","axis":{"values":[0,0.002,0.004,0.006,0.008,0.01,0.012,0.014,0.016,0.018,0.02,0.022],"format":".3f"}},
"text":{"field":"label"}}}
]
}
